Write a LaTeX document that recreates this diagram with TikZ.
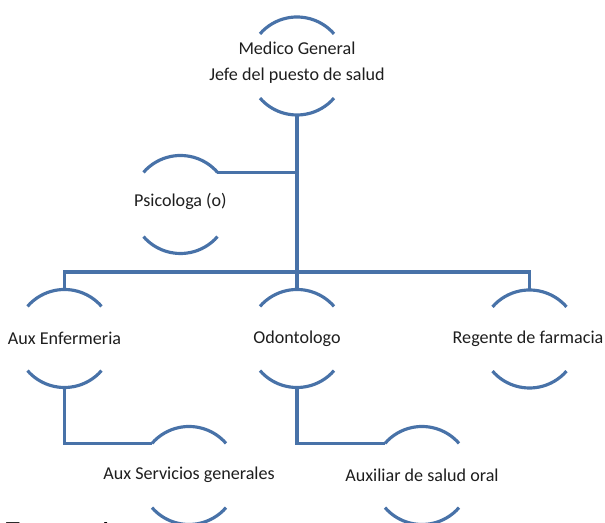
\documentclass[tikz,border=0pt]{standalone}
\usepackage{fontspec}
\setmainfont{Carlito}
\newfontfamily\fuentefont{Liberation Serif}
\definecolor{azulorg}{RGB}{72,114,168}
\definecolor{textorg}{RGB}{30,30,30}
\def\rr{0.98cm}
\def\puesto(#1){\draw[linea] (#1.41) arc (41:139:\rr); \draw[linea] (#1.221) arc (221:319:\rr);}
\tikzset{
	linea/.style={line width=1.8pt, color=azulorg},
	puesto/.style={circle, minimum size=1.96cm, inner sep=0pt, outer sep=0pt},
	cargo/.style={font=\fontsize{10.3}{14.7}\selectfont, text=textorg, align=center, inner sep=0pt}
}

\begin{document}
\begin{tikzpicture}
		%%%%% START %%%%%
		
		\clip (0, 0) rectangle (12.1, 10.46);
		
		\node[puesto] (med) at (5.94, 9.14) {};
		\node[cargo] (medtxt) at (5.94, 9.2) {Medico General\\Jefe del puesto de salud};
		
		\node[puesto] (psi) at (3.61, 6.37) {};
		\node[cargo] (psitxt) at (3.61, 6.43) {Psicologa (o)};
		
		\node[puesto] (enf) at (1.29, 3.69) {};
		\node[cargo] (enftxt) at (1.29, 3.69) {Aux Enfermeria};
		
		\node[puesto] (odo) at (5.94, 3.69) {};
		\node[cargo] (odotxt) at (5.94, 3.69) {Odontologo};
		
		\node[puesto] (reg) at (10.59, 3.68) {};
		\node[cargo] (regtxt) at (10.56, 3.68) {Regente de farmacia};
		
		\node[puesto] (ser) at (3.78, 0.95) {};
		\node[cargo] (sertxt) at (3.78, 0.96) {Aux Servicios generales};
		
		\node[puesto] (aux) at (8.44, 0.95) {};
		\node[cargo] (auxtxt) at (8.44, 0.96) {Auxiliar de salud oral};
		
		\coordinate (bus) at (5.94, 5.02);
		
		\draw[linea] (med.south) -- (bus);
		\draw[linea] (psi.41) -- (psi.41 -| med.south);
		\draw[linea] (enf.north) |- (bus) -| (reg.north);
		\draw[linea] (odo.north) -- (bus);
		
		\draw[linea] (enf.south) |- (ser.139);
		\draw[linea] (odo.south) |- (aux.139);
		
		\puesto(med);
		\puesto(psi);
		\puesto(enf);
		\puesto(odo);
		\puesto(reg);
		\puesto(ser);
		\puesto(aux);
		
		\node[anchor=base west, inner sep=0pt, font=\fuentefont\fontsize{15.5}{18}\selectfont] (fuente) at (0.1, -0.36) {Fuente: Autor};
		
		%%%%% END %%%%%
	\end{tikzpicture}
\end{document}
